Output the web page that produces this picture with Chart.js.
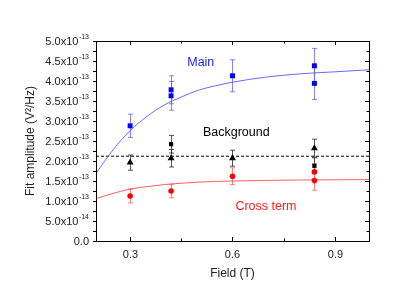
<!DOCTYPE html>
<html>
<head>
<meta charset="utf-8">
<script src="https://cdn.jsdelivr.net/npm/chart.js@4/dist/chart.umd.min.js"></script>
<style>
  html, body { margin: 0; padding: 0; background: #fff; }
  #wrap { width: 409px; height: 302px; }
</style>
</head>
<body>
<div id="wrap"><canvas id="myChart" width="409" height="302"></canvas></div>
<script>
// values in units of 1e-13 V^2/Hz, field in T
const mainField = [0.3, 0.42, 0.42, 0.6, 0.84, 0.84];
const mainAmp = [2.88, 3.78, 3.63, 4.13, 4.38, 3.94];
const mainErr = [0.29, 0.35, 0.36, 0.40, 0.435, 0.40];

const bgTriField = [0.3, 0.42, 0.6, 0.84];
const bgTriAmp = [1.96, 2.07, 2.07, 2.32];
const bgTriErr = [0.19, 0.22, 0.20, 0.225];

const bgSqField = [0.42, 0.84];
const bgSqAmp = [2.42, 1.88];
const bgSqErr = [0.22, 0.20];

const crossField = [0.3, 0.42, 0.6, 0.84, 0.84];
const crossAmp = [1.125, 1.25, 1.62, 1.73, 1.51];
const crossErr = [0.17, 0.17, 0.21, 0.20, 0.24];

const fitField = [0.2, 0.25, 0.3, 0.35, 0.4, 0.45, 0.5, 0.55, 0.6, 0.7, 0.8, 0.9, 1.0];
const mainFit = [1.69, 2.28, 2.76, 3.12, 3.40, 3.60, 3.77, 3.88, 3.97, 4.10, 4.18, 4.23, 4.28];
const crossFit = [1.06, 1.19, 1.30, 1.36, 1.41, 1.445, 1.47, 1.49, 1.50, 1.515, 1.525, 1.53, 1.535];

const bgLevel = 2.12;
const bgLineField = [0.2, 1.0];

const labels = [
    {text: 'Main', x: 0.507, y: 4.46, color: '#1a1aff'},
    {text: 'Background', x: 0.611, y: 2.70, color: '#000'},
    {text: 'Cross term', x: 0.698, y: 0.86, color: '#ff1a1a'}
];

function pts(xs, ys) {
    return xs.map((x, i) => ({x: x, y: ys[i]}));
}

const errBars = [
    {xs: mainField, ys: mainAmp, es: mainErr, color: 'rgba(90,90,255,0.75)'},
    {xs: bgTriField, ys: bgTriAmp, es: bgTriErr, color: 'rgba(40,40,40,0.8)'},
    {xs: bgSqField, ys: bgSqAmp, es: bgSqErr, color: 'rgba(40,40,40,0.8)'},
    {xs: crossField, ys: crossAmp, es: crossErr, color: 'rgba(255,90,90,0.75)'}
];

const errorBarPlugin = {
    id: 'errorBars',
    beforeDatasetsDraw(chart) {
        const ctx = chart.ctx;
        const xs = chart.scales.x, ys = chart.scales.y;
        ctx.save();
        ctx.lineWidth = 1;
        errBars.forEach(set => {
            ctx.strokeStyle = set.color;
            set.xs.forEach((x, i) => {
                const px = Math.round(xs.getPixelForValue(x)) + 0.5;
                const top = ys.getPixelForValue(set.ys[i] + set.es[i]);
                const bot = ys.getPixelForValue(set.ys[i] - set.es[i]);
                ctx.beginPath();
                ctx.moveTo(px, top);
                ctx.lineTo(px, bot);
                ctx.moveTo(px - 2.5, top);
                ctx.lineTo(px + 2.5, top);
                ctx.moveTo(px - 2.5, bot);
                ctx.lineTo(px + 2.5, bot);
                ctx.stroke();
            });
        });
        ctx.restore();
    }
};

function isStep(v, step) {
    const r = v / step;
    return Math.abs(r - Math.round(r)) < 1e-6;
}

const framePlugin = {
    id: 'frame',
    afterDraw(chart) {
        const ctx = chart.ctx;
        const a = chart.chartArea;
        const xs = chart.scales.x, ys = chart.scales.y;
        const font = '"Liberation Sans", Arial, sans-serif';
        ctx.save();
        ctx.strokeStyle = '#000';
        ctx.lineWidth = 1;
        ctx.strokeRect(a.left + 0.5, a.top + 0.5, a.right - a.left, a.bottom - a.top);

        // x ticks: inward on bottom and top
        ctx.fillStyle = '#222';
        ctx.font = '11px ' + font;
        ctx.textAlign = 'center';
        ctx.textBaseline = 'middle';
        xs.ticks.forEach(t => {
            if (!isStep(t.value, 0.15)) return;
            const major = Math.round(t.value / 0.15) % 2 === 0;
            const len = major ? 4 : 2.5;
            const px = Math.round(xs.getPixelForValue(t.value)) + 0.5;
            ctx.beginPath();
            ctx.moveTo(px, a.bottom);
            ctx.lineTo(px, a.bottom - len);
            ctx.moveTo(px, a.top);
            ctx.lineTo(px, a.top + len);
            ctx.stroke();
            if (major) ctx.fillText(t.value.toFixed(1), px, a.bottom + 14);
        });

        // y ticks: outward on left, inward on right
        ys.ticks.forEach(t => {
            if (!isStep(t.value, 0.25)) return;
            const major = Math.round(t.value / 0.25) % 2 === 0;
            const py = Math.round(ys.getPixelForValue(t.value)) + 0.5;
            ctx.beginPath();
            ctx.moveTo(a.left, py);
            ctx.lineTo(a.left - 3, py);
            ctx.moveTo(a.right, py);
            ctx.lineTo(a.right - (major ? 4 : 2.5), py);
            ctx.stroke();
            if (!major) return;
            const right = a.left - 7;
            if (t.value === 0) {
                ctx.font = '11px ' + font;
                ctx.textAlign = 'right';
                ctx.fillText('0.0', right, py);
                return;
            }
            let mant = t.value, exp = '-13';
            if (mant < 1) { mant = mant * 10; exp = '-14'; }
            ctx.font = '7px ' + font;
            const ew = ctx.measureText(exp).width;
            ctx.textAlign = 'right';
            ctx.fillText(exp, right, py - 4);
            ctx.font = '11px ' + font;
            ctx.fillText(mant.toFixed(1) + 'x10', right - ew - 0.5, py);
        });

        // axis titles
        ctx.fillStyle = '#222';
        ctx.font = '12px ' + font;
        ctx.textAlign = 'center';
        ctx.fillText('Field (T)', (a.left + a.right) / 2, 274);
        ctx.translate(31, (a.top + a.bottom) / 2);
        ctx.rotate(-Math.PI / 2);
        ctx.fillText('Fit amplitude (V\u00B2/Hz)', 0, 0);
        ctx.restore();

        // in-plot labels
        ctx.save();
        ctx.font = '12.5px ' + font;
        ctx.textAlign = 'center';
        ctx.textBaseline = 'middle';
        labels.forEach(l => {
            ctx.fillStyle = l.color;
            ctx.fillText(l.text, xs.getPixelForValue(l.x), ys.getPixelForValue(l.y));
        });
        ctx.restore();
    }
};

const ctx = document.getElementById('myChart');
new Chart(ctx, {
    type: 'scatter',
    data: {
        datasets: [
            {data: pts(mainField, mainAmp), pointStyle: 'rect', pointRadius: 3.5,
                backgroundColor: '#0000ff', borderColor: '#0000ff', borderWidth: 0},
            {data: pts(bgSqField, bgSqAmp), pointStyle: 'rect', pointRadius: 3,
                backgroundColor: '#000', borderColor: '#000', borderWidth: 0},
            {data: pts(bgTriField, bgTriAmp), pointStyle: 'triangle', pointRadius: 4,
                backgroundColor: '#000', borderColor: '#000', borderWidth: 0},
            {data: pts(crossField, crossAmp), pointStyle: 'circle', pointRadius: 2.8,
                backgroundColor: '#ff0000', borderColor: '#ff0000', borderWidth: 0},
            {data: pts(fitField, mainFit), showLine: true, pointRadius: 0, borderWidth: 1,
                borderColor: 'rgba(80,80,255,0.85)', cubicInterpolationMode: 'monotone'},
            {data: pts(fitField, crossFit), showLine: true, pointRadius: 0, borderWidth: 1,
                borderColor: 'rgba(255,70,70,0.85)', cubicInterpolationMode: 'monotone'},
            {data: pts(bgLineField, [bgLevel, bgLevel]), showLine: true, pointRadius: 0, borderWidth: 1,
                borderColor: '#000', borderDash: [3, 2]}
        ]
    },
    options: {
        responsive: false,
        animation: false,
        events: [],
        layout: {padding: {left: 0, top: 41, right: 40, bottom: 0}},
        plugins: {legend: {display: false}, tooltip: {enabled: false}},
        scales: {
            x: {
                type: 'linear', min: 0.2, max: 1.0,
                ticks: {display: false, stepSize: 0.15},
                grid: {display: false}, border: {display: false},
                afterFit(scale) { scale.height = 61; }
            },
            y: {
                type: 'linear', min: 0, max: 5,
                ticks: {display: false, stepSize: 0.25},
                grid: {display: false}, border: {display: false},
                afterFit(scale) { scale.width = 96; }
            }
        }
    },
    plugins: [errorBarPlugin, framePlugin]
});
</script>
</body>
</html>
